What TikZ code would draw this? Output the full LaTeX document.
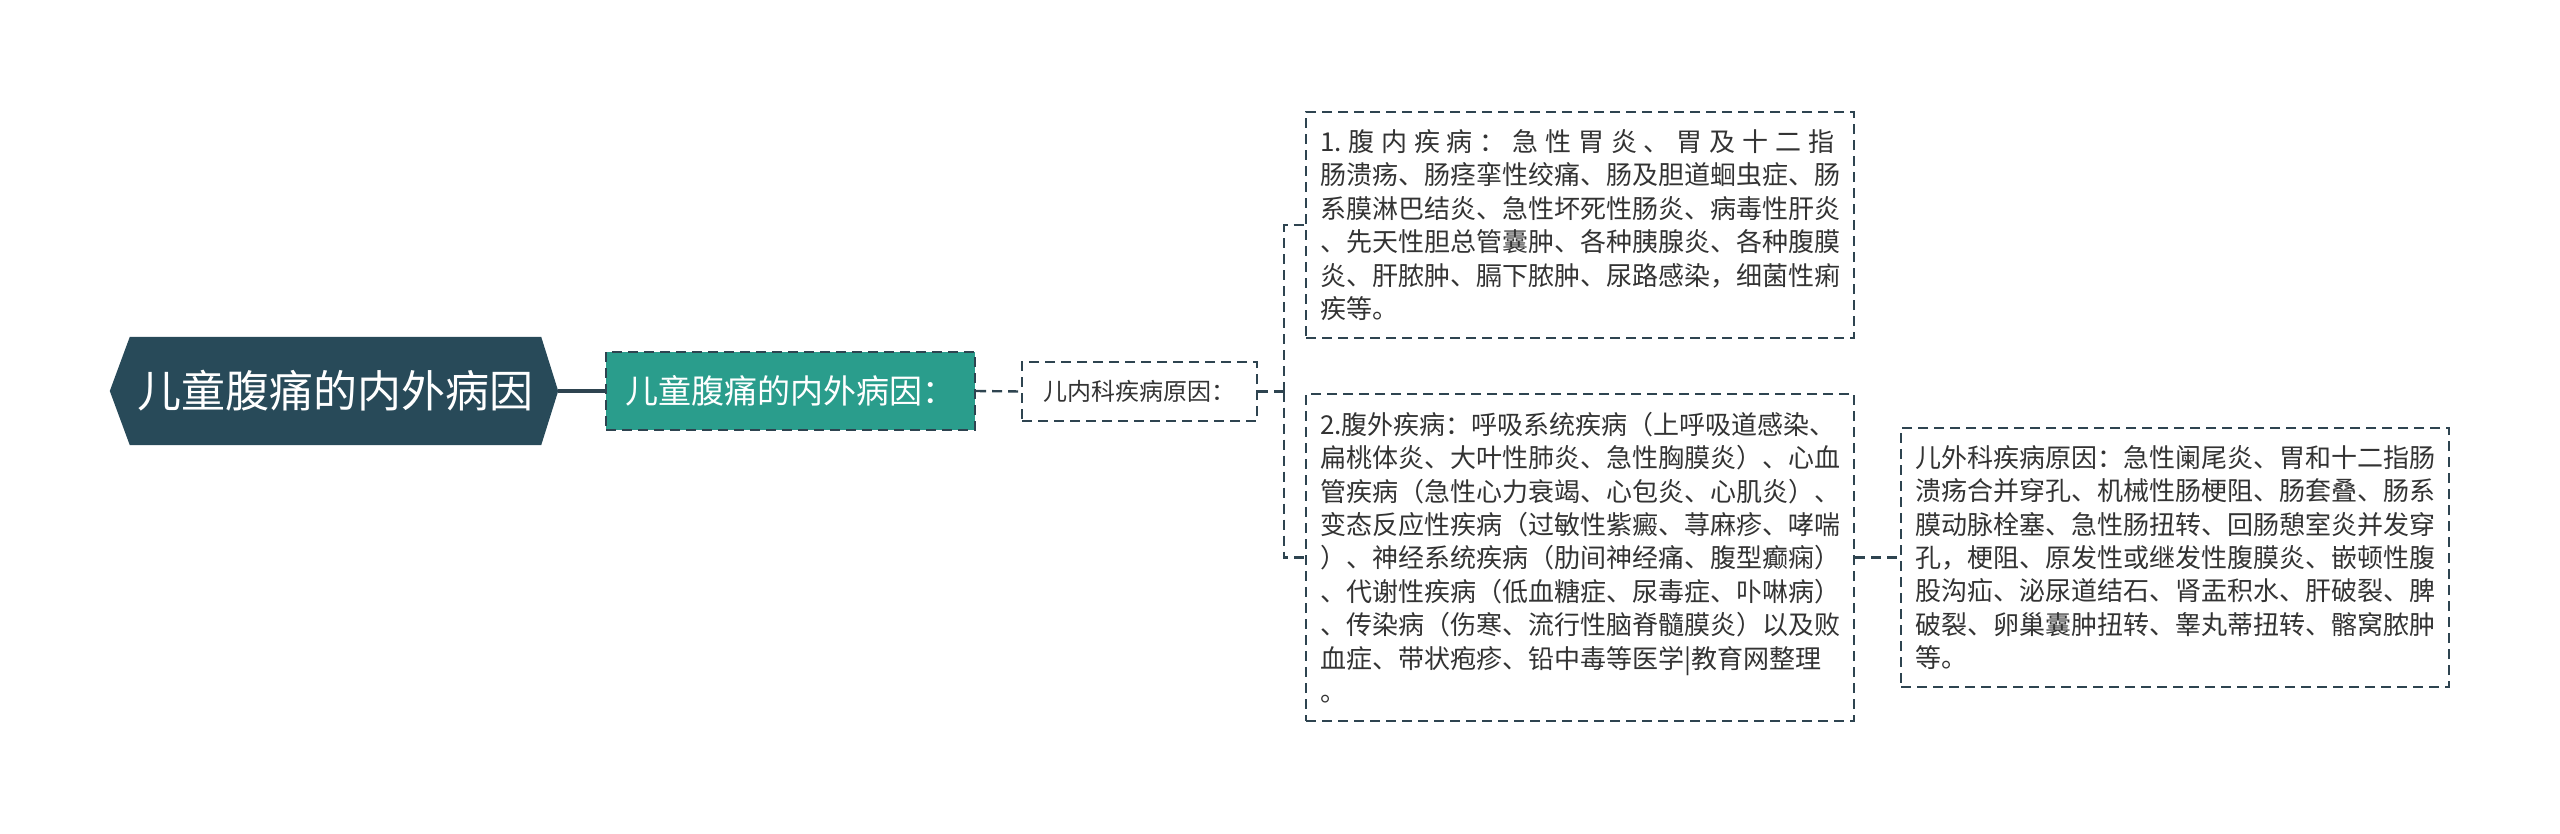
\documentclass[tikz,border=0pt]{standalone}
\usepackage{fontspec}
\newfontfamily\cjk{Noto Sans CJK SC}
\usepackage{xcolor}
\usetikzlibrary{backgrounds}
\definecolor{rootcol}{HTML}{284A59}
\definecolor{topiccol}{HTML}{2A9D8C}
\definecolor{linecol}{HTML}{2E4450}
\definecolor{textcol}{HTML}{333333}
\tikzset{rootnode/.style={text=white, inner sep=0pt,
   font=\cjk\fontsize{44}{50}\selectfont,
   minimum width=411pt, minimum height=108pt},
 topic/.style={draw=linecol, fill=topiccol, text=white, inner sep=0pt,
   line width=2.4pt, dash pattern=on 10pt off 6pt,
   font=\cjk\fontsize{33}{40}\selectfont,
   minimum width=369pt, minimum height=78pt},
 subtopic/.style={draw=linecol, fill=white, text=textcol, inner sep=0pt,
   line width=2.4pt, dash pattern=on 10pt off 6pt,
   font=\cjk\fontsize{24}{30}\selectfont,
   minimum width=235pt, minimum height=59pt},
 leaf/.style={draw=linecol, fill=white, text=textcol, inner sep=0pt,
   line width=2.4pt, dash pattern=on 10pt off 6pt, align=left,
   font=\cjk\fontsize{26}{33.4}\selectfont, minimum width=548pt},
 link/.style={draw=linecol, line width=2.4pt, dash pattern=on 10pt off 6pt},
 trunk/.style={draw=linecol, line width=4pt},
 }

\begin{document}
\begin{tikzpicture}[x=1pt,y=-1pt]
    \useasboundingbox (0,0) rectangle (2560,833);
    \node[rootnode] (root) at (335.5,391) {儿童腹痛的内外病因};
    \begin{scope}[on background layer]
        \fill[rootcol] (root.north west) -- (root.north east)
            -- ([xshift=17pt]root.east) -- (root.south east)
            -- (root.south west) -- ([xshift=-20pt]root.west) -- cycle;
    \end{scope}
    \coordinate (roottip) at ([xshift=17pt]root.east);
    \node[topic] (cause) at (790.5,391) {儿童腹痛的内外病因：};
    \node[subtopic] (inner) at (1139.5,391.5) {儿内科疾病原因：};
    \node[leaf, minimum height=226pt] (belly) at (1580,225)
        {\makebox[514pt][s]{1.\hfil 腹\hfil 内\hfil 疾\hfil 病\hfil ：\hfil 急\hfil 性\hfil 胃\hfil 炎\hfil 、\hfil 胃\hfil 及\hfil 十\hfil 二\hfil 指}\\
        肠溃疡、肠痉挛性绞痛、肠及胆道蛔虫症、肠\\
        系膜淋巴结炎、急性坏死性肠炎、病毒性肝炎\\
        、先天性胆总管囊肿、各种胰腺炎、各种腹膜\\
        炎、肝脓肿、膈下脓肿、尿路感染，细菌性痢\\
        疾等。};
    \node[leaf, minimum height=327pt] (outside) at (1580,557.5) {2.腹外疾病：呼吸系统疾病（上呼吸道感染、\\
        扁桃体炎、大叶性肺炎、急性胸膜炎）、心血\\
        管疾病（急性心力衰竭、心包炎、心肌炎）、\\
        变态反应性疾病（过敏性紫癜、荨麻疹、哮喘\\
        ）、神经系统疾病（肋间神经痛、腹型癫痫）\\
        、代谢性疾病（低血糖症、尿毒症、卟啉病）\\
        、传染病（伤寒、流行性脑脊髓膜炎）以及败\\
        血症、带状疱疹、铅中毒等医学|教育网整理\\
        。};
    \node[leaf, minimum height=259pt] (surgery) at (2175,557.5) {儿外科疾病原因：急性阑尾炎、胃和十二指肠\\
        溃疡合并穿孔、机械性肠梗阻、肠套叠、肠系\\
        膜动脉栓塞、急性肠扭转、回肠憩室炎并发穿\\
        孔，梗阻、原发性或继发性腹膜炎、嵌顿性腹\\
        股沟疝、泌尿道结石、肾盂积水、肝破裂、脾\\
        破裂、卵巢囊肿扭转、睾丸蒂扭转、髂窝脓肿\\
        等。};
    \coordinate (fork) at (1284,391.5);
    % connectors
    \draw[trunk] (roottip) -- (cause.west);
    \draw[link] (cause.east) -- (inner.west);
    \draw[link] (inner.east) -- (fork);
    \draw[link] (fork) |- (belly.west);
    \draw[link] (fork) |- (outside.west);
    \draw[link] (outside.east) -- (surgery.west);
\end{tikzpicture}
\end{document}
